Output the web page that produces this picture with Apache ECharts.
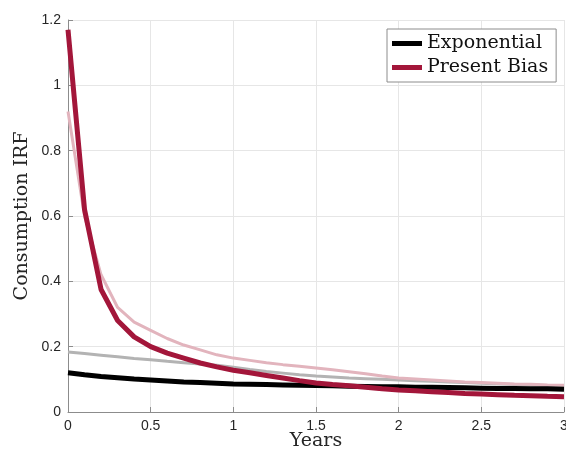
<!DOCTYPE html>
<html>
<head>
<meta charset="utf-8">
<script src="https://cdn.jsdelivr.net/npm/echarts@6/dist/echarts.min.js"></script>
<style>html,body{margin:0;padding:0;background:#fff}#c{width:566px;height:457px}</style>
</head>
<body>
<div id="c"></div>
<script>
// x in years, step 0.1
const years = [0,0.1,0.2,0.3,0.4,0.5,0.6,0.7,0.8,0.9,1.0,1.1,1.2,1.3,1.4,1.5,1.6,1.7,1.8,1.9,2.0,2.1,2.2,2.3,2.4,2.5,2.6,2.7,2.8,2.9,3.0];
const exponential = [0.120,0.114,0.109,0.105,0.101,0.098,0.095,0.092,0.090,0.088,0.086,0.085,0.084,0.083,0.082,0.081,0.080,0.079,0.078,0.077,0.077,0.076,0.076,0.075,0.074,0.073,0.072,0.072,0.071,0.071,0.070];
const presentBias = [1.17,0.62,0.375,0.28,0.23,0.20,0.18,0.165,0.15,0.138,0.128,0.12,0.112,0.104,0.096,0.089,0.084,0.080,0.076,0.071,0.067,0.065,0.062,0.060,0.057,0.055,0.053,0.051,0.050,0.048,0.047];
const exponentialFaint = [0.184,0.179,0.174,0.169,0.164,0.160,0.155,0.151,0.147,0.143,0.137,0.130,0.124,0.119,0.114,0.110,0.107,0.104,0.102,0.100,0.098,0.096,0.094,0.092,0.090,0.088,0.086,0.084,0.083,0.081,0.080];
const presentBiasFaint = [0.92,0.60,0.42,0.32,0.275,0.25,0.225,0.205,0.19,0.175,0.165,0.158,0.151,0.145,0.140,0.135,0.129,0.123,0.117,0.110,0.104,0.101,0.098,0.095,0.092,0.090,0.088,0.086,0.085,0.083,0.082];
const seriesNames = ['Exponential','Present Bias'];
const xLabel = 'Years';
const yLabel = 'Consumption IRF';

const pair = arr => years.map((x,i)=>[x,arr[i]]);
const chart = echarts.init(document.getElementById('c'));
const serif = 'DejaVu Serif';
const sans = 'Liberation Sans';
chart.setOption({
  animation:false,
  grid:{left:68,right:2,top:20,bottom:45,containLabel:false,outerBoundsMode:'none'},
  xAxis:{type:'value',min:0,max:3,interval:0.5,
    name:xLabel,nameLocation:'middle',nameGap:20,nameMoveOverlap:false,
    nameTextStyle:{fontFamily:serif,fontSize:19,color:'#262626'},
    axisLine:{show:true,lineStyle:{color:'#8c8c8c',width:1}},
    axisTick:{show:true,inside:true,length:5,lineStyle:{color:'#8c8c8c'}},
    axisLabel:{fontFamily:sans,fontSize:14,color:'#262626',margin:7},
    splitLine:{show:true,lineStyle:{color:'#e6e6e6',width:1}}},
  yAxis:{type:'value',min:0,max:1.2,interval:0.2,
    name:yLabel,nameLocation:'middle',nameGap:36,nameMoveOverlap:false,
    nameTextStyle:{fontFamily:serif,fontSize:19,color:'#262626'},
    axisLine:{show:true,lineStyle:{color:'#8c8c8c',width:1}},
    axisTick:{show:true,inside:true,length:5,lineStyle:{color:'#8c8c8c'}},
    axisLabel:{fontFamily:sans,fontSize:14,color:'#262626',margin:7},
    splitLine:{show:true,lineStyle:{color:'#e6e6e6',width:1}}},
  legend:{data:seriesNames,orient:'vertical',left:387,top:29,
    backgroundColor:'#fff',borderColor:'#8c8c8c',borderWidth:1,
    padding:[5,8,5,5],itemGap:5,icon:'rect',itemWidth:30,itemHeight:5,
    textStyle:{fontFamily:serif,fontSize:19,color:'#111'}},
  series:[
    {name:'Exponential (faint)',type:'line',data:pair(exponentialFaint),showSymbol:false,
      lineStyle:{color:'#b3b3b3',width:3},itemStyle:{color:'#b3b3b3'},z:1},
    {name:'Present Bias (faint)',type:'line',data:pair(presentBiasFaint),showSymbol:false,
      lineStyle:{color:'#e2b4bd',width:3},itemStyle:{color:'#e2b4bd'},z:2},
    {name:'Exponential',type:'line',data:pair(exponential),showSymbol:false,
      lineStyle:{color:'#000000',width:5},itemStyle:{color:'#000000'},z:3},
    {name:'Present Bias',type:'line',data:pair(presentBias),showSymbol:false,
      lineStyle:{color:'#a3163a',width:5},itemStyle:{color:'#a3163a'},z:4}
  ]
});
</script>
</body>
</html>
